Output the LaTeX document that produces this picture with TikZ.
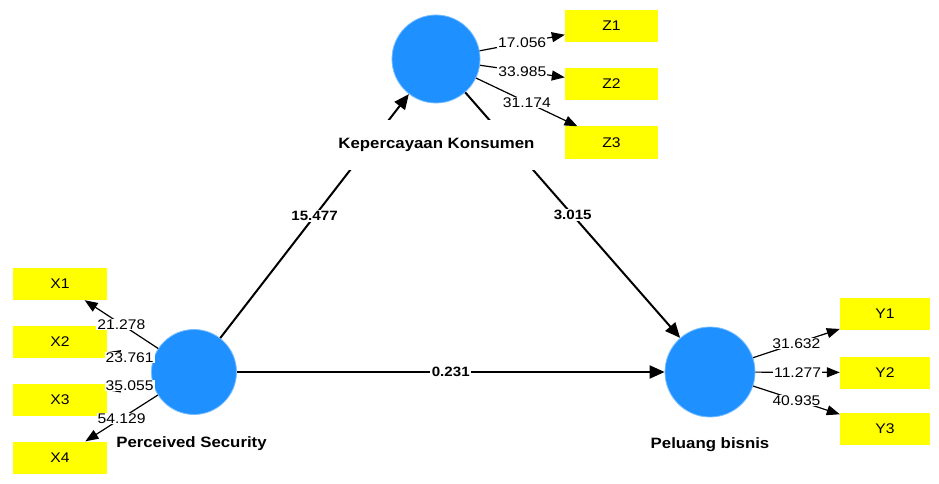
\documentclass[tikz,border=0pt]{standalone}
\usepackage{fontspec}
\setmainfont[FakeStretch=1.12]{Liberation Sans}
\usetikzlibrary{arrows.meta}
\definecolor{lvblue}{RGB}{30,144,255}
\definecolor{lvedge}{RGB}{120,190,255}
\definecolor{mvyellow}{RGB}{255,255,0}
\begin{document}
\begin{tikzpicture}[x=1pt,y=-1pt,
  latent/.style={circle, fill=lvblue, draw=lvedge, line width=0.8pt, inner sep=0pt},
  mv/.style={rectangle, fill=mvyellow, minimum width=93pt, minimum height=32pt, inner sep=0pt, font=\fontsize{14}{16}\selectfont},
  ld/.style={-{Triangle[length=13pt,width=10pt]}, line width=1.2pt},
  ldlbl/.style={fill=white, inner xsep=1pt, inner ysep=0.5pt, font=\fontsize{14}{16}\selectfont},
  structarrow/.style={-{Triangle[length=15pt,width=13pt]}, line width=2pt},
  structlbl/.style={fill=white, inner xsep=1.5pt, inner ysep=1pt, font=\bfseries\fontsize{13.5}{15}\selectfont},
  lvname/.style={font=\bfseries\fontsize{15}{17}\selectfont, anchor=base, inner sep=1pt}]
\useasboundingbox[fill=white] (0,0) rectangle (939,484);

% latent variables
\node[latent, minimum size=88pt] (K) at (436,59) {};
\node[latent, minimum size=85pt] (P) at (194,372) {};
\node[latent, minimum size=90pt] (B) at (710,372) {};

% indicators
\node[mv] (Z1) at (611.5,26) {Z1};
\node[mv] (Z2) at (611.5,84) {Z2};
\node[mv] (Z3) at (611.5,142.5) {Z3};
\node[mv, minimum width=94pt] (X1) at (60,284) {X1};
\node[mv, minimum width=94pt] (X2) at (60,341.5) {X2};
\node[mv, minimum width=94pt] (X3) at (60,400) {X3};
\node[mv, minimum width=94pt] (X4) at (60,457.5) {X4};
\node[mv, minimum width=90pt] (Y1) at (885,314) {Y1};
\node[mv, minimum width=90pt] (Y2) at (885,372.5) {Y2};
\node[mv, minimum width=90pt] (Y3) at (885,429) {Y3};

% outer loadings
\draw[ld] (K) -- node[ldlbl] {17.056} (Z1);
\draw[ld] (K) -- node[ldlbl] {33.985} (Z2);
\draw[ld] (K) -- node[ldlbl] {31.174} (Z3);
\draw[ld] (P) -- node[ldlbl] {21.278} (X1);
\draw[ld] (P) -- node[ldlbl] {23.761} (X2);
\draw[ld] (P) -- node[ldlbl] {35.055} (X3);
\draw[ld] (P) -- node[ldlbl] {54.129} (X4);
\draw[ld] (B) -- node[ldlbl] {31.632} (Y1);
\draw[ld] (B) -- node[ldlbl] {11.277} (Y2);
\draw[ld] (B) -- node[ldlbl] {40.935} (Y3);

% structural paths
\draw[structarrow] (P) -- node[structlbl] {15.477} (K);
\draw[structarrow] (K) -- node[structlbl] {3.015} (B);
\draw[structarrow] (P) -- node[structlbl] {0.231} (B);

% names
\node[lvname, fill=white, minimum height=50pt, inner xsep=2pt] (Kname) at (436.5,149) {Kepercayaan Konsumen};
\node[lvname] (Pname) at (191.5,447.5) {Perceived Security};
\node[lvname] (Bname) at (710,448) {Peluang bisnis};
\end{tikzpicture}
\end{document}
